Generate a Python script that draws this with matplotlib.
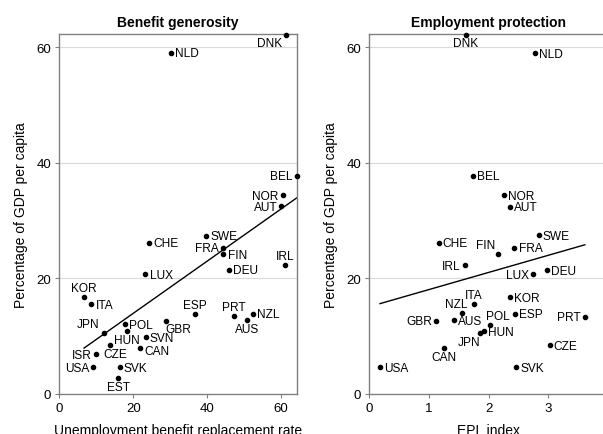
import numpy as np
import matplotlib.pyplot as plt

plt.rcParams['font.family'] = ['Liberation Sans', 'DejaVu Sans']

# replacement rate vs spending, all countries
brr_cty = ['DNK', 'NLD', 'BEL', 'NOR', 'AUT', 'SWE', 'CHE', 'FRA', 'FIN', 'IRL',
           'DEU', 'LUX', 'KOR', 'ITA', 'ESP', 'NZL', 'PRT', 'AUS', 'GBR', 'POL',
           'HUN', 'JPN', 'SVN', 'CZE', 'CAN', 'ISR', 'USA', 'SVK', 'EST']
brr_x = [61.3, 30.1, 64.2, 60.4, 60.1, 39.8, 24.4, 44.4, 44.4, 61.1,
         45.9, 23.3, 6.7, 8.7, 36.8, 52.3, 47.3, 50.7, 28.8, 17.8,
         18.3, 12.0, 23.4, 13.7, 21.9, 9.9, 9.2, 16.3, 15.9]
brr_y = [62.2, 59.1, 37.8, 34.4, 32.5, 27.4, 26.2, 25.3, 24.2, 22.3,
         21.5, 20.7, 16.8, 15.6, 13.9, 13.9, 13.5, 12.8, 12.7, 12.1,
         10.9, 10.55, 9.8, 8.4, 8.0, 6.9, 4.6, 4.6, 2.7]

# EPL index vs spending (no ISR, SVN, EST)
epl_cty = ['DNK', 'NLD', 'BEL', 'NOR', 'AUT', 'SWE', 'CHE', 'FRA', 'FIN', 'IRL',
           'DEU', 'LUX', 'ITA', 'KOR', 'NZL', 'ESP', 'PRT', 'GBR', 'AUS', 'POL',
           'HUN', 'JPN', 'CZE', 'CAN', 'USA', 'SVK']
epl_x = [1.62, 2.78, 1.73, 2.25, 2.36, 2.84, 1.16, 2.43, 2.16, 1.60,
         2.98, 2.74, 1.75, 2.36, 1.55, 2.44, 3.61, 1.12, 1.42, 2.03,
         1.92, 1.86, 3.02, 1.25, 0.18, 2.46]
epl_y = [62.2, 59.0, 37.8, 34.4, 32.4, 27.5, 26.2, 25.3, 24.2, 22.3,
         21.4, 20.75, 15.6, 16.8, 14.1, 13.9, 13.4, 12.7, 12.8, 12.0,
         10.9, 10.6, 8.4, 8.0, 4.6, 4.6]

# label placement: (dx, dy) in points, ha, va
R = (3, -0.5, 'left', 'center')
L = (-3, -0.5, 'right', 'center')
A = (0, 2, 'center', 'bottom')
B = (0, -2, 'center', 'top')

brr_pos = {'DNK': (-3, -2, 'right', 'top'), 'BEL': L, 'NOR': L, 'AUT': L,
           'FRA': L, 'IRL': A, 'KOR': A, 'ESP': A, 'PRT': A, 'AUS': B,
           'GBR': (0, -2, 'left', 'top'), 'HUN': B, 'JPN': (-3, 2, 'right', 'bottom'),
           'CZE': (4, -2, 'center', 'top'), 'ISR': L, 'USA': L, 'EST': B,
           'CAN': (3, -2, 'left', 'center')}
epl_pos = {'DNK': B, 'FIN': (-2, 2, 'right', 'bottom'), 'IRL': L, 'LUX': L,
           'ITA': A, 'NZL': (-4, 2, 'center', 'bottom'), 'PRT': L, 'GBR': L,
           'POL': (-3, 2, 'left', 'bottom'), 'JPN': (0, -2, 'right', 'top'),
           'CAN': B}

fig = plt.figure(figsize=(6.03, 4.35), dpi=100)
ax1 = fig.add_axes([0.0983, 0.092, 0.3942, 0.8275])
ax2 = fig.add_axes([0.6124, 0.092, 4.0 * 59.7 / 603, 0.8275])


def panel(ax, cty, x, y, pos, xmax, xticks, title, xlabel):
    x = np.array(x)
    y = np.array(y)
    ax.set_xlim(0, xmax)
    ax.set_ylim(0, 62.3)
    ax.set_yticks([0, 20, 40, 60])
    ax.set_xticks(xticks)
    ax.yaxis.grid(True, color='#d9d9d9', lw=0.8)
    ax.set_axisbelow(True)
    for s in ax.spines.values():
        s.set_color('#808080')
        s.set_linewidth(1.0)
    ax.tick_params(colors='#808080', labelcolor='black', labelsize=9.5,
                   length=3, width=0.8, pad=3)

    ax.plot(x, y, 'o', color='black', ms=3, zorder=3, clip_on=False)
    b, a = np.polyfit(x, y, 1)
    xs = np.array([x.min(), x.max()])
    ax.plot(xs, a + b * xs, color='black', lw=1.0, zorder=2)

    for c, xi, yi in zip(cty, x, y):
        dx, dy, ha, va = pos.get(c, R)
        ax.annotate(c, (xi, yi), xytext=(dx, dy), textcoords='offset points',
                    ha=ha, va=va, fontsize=8.6, annotation_clip=False)

    ax.set_title(title, fontsize=10, fontweight='bold', pad=6)
    ax.set_xlabel(xlabel, fontsize=10, labelpad=6.5)
    ax.set_ylabel('Percentage of GDP per capita', fontsize=10, labelpad=6)


panel(ax1, brr_cty, brr_x, brr_y, brr_pos, 64.3, [0, 20, 40, 60],
      'Benefit generosity', 'Unemployment benefit replacement rate')
panel(ax2, epl_cty, epl_x, epl_y, epl_pos, 4.0, [0, 1, 2, 3],
      'Employment protection', 'EPL index')

fig.savefig('out.png', dpi=100)
